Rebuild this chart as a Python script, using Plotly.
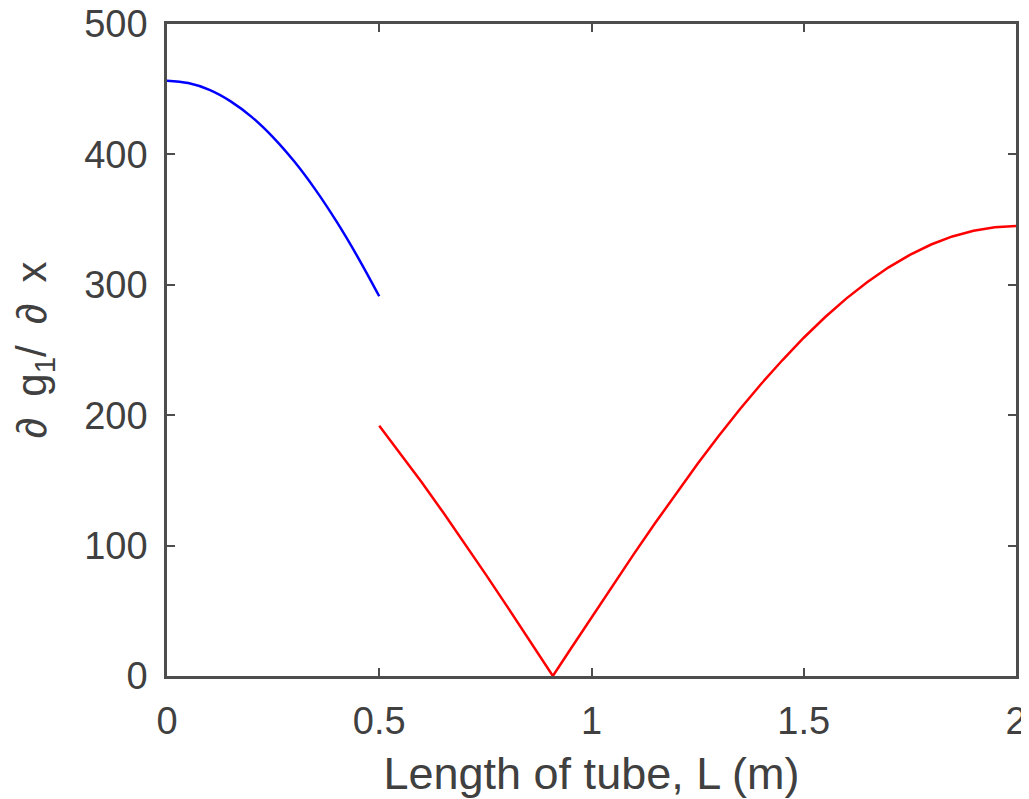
import plotly.graph_objects as go

# Blue segment (0 <= L <= 0.5)
L_blue = [0.0, 0.05, 0.1, 0.15, 0.2, 0.25, 0.3, 0.35, 0.4, 0.45, 0.5]
g_blue = [456.5, 454.7, 449.5, 440.7, 428.6, 413.1, 394.5, 372.8, 348.2, 320.9, 291.2]

# Red segment (0.5 <= L <= 2)
L_red = [0.5, 0.55, 0.6, 0.65, 0.7, 0.75, 0.8, 0.85, 0.9, 0.909, 0.95, 1.0, 1.05,
         1.1, 1.15, 1.2, 1.25, 1.3, 1.35, 1.4, 1.45, 1.5, 1.55, 1.6, 1.65, 1.7,
         1.75, 1.8, 1.85, 1.9, 1.95, 2.0]
g_red = [192.0, 170.5, 148.5, 125.7, 102.3, 78.3, 54.0, 29.3, 4.5, 0.0, 20.3, 45.1, 69.6,
         93.7, 117.3, 140.4, 162.7, 184.2, 204.7, 224.1, 242.3, 259.4, 275.1, 289.4, 302.1, 313.4,
         323.0, 330.9, 337.1, 341.5, 344.1, 345.0]

x_ticks = [0, 0.5, 1, 1.5, 2]
x_ticklabels = ["0", "0.5", "1", "1.5", "2"]
y_ticks = [0, 100, 200, 300, 400, 500]

FONT = "Liberation Sans, Arial"

fig = go.Figure()
fig.add_trace(go.Scatter(x=L_blue, y=g_blue, mode="lines", line_shape="spline",
                         line=dict(color="#0000ff", width=2.5), showlegend=False))
fig.add_trace(go.Scatter(x=L_red, y=g_red, mode="lines", line_shape="linear",
                         line=dict(color="#ff0000", width=2.5), showlegend=False))

axis_common = dict(showline=True, linecolor="#4d4d4d", linewidth=2.5, mirror="ticks",
                   ticks="inside", ticklen=8, tickwidth=2, tickcolor="#4d4d4d",
                   showgrid=False, zeroline=False, ticklabeloverflow="allow",
                   automargin=False,
                   tickfont=dict(family=FONT, size=38, color="#404040"))

fig.update_xaxes(range=[0, 2], tickvals=x_ticks, ticktext=x_ticklabels,
                 ticklabelstandoff=10,
                 title=dict(text="Length of tube, L (m)",
                            font=dict(family=FONT, size=45, color="#404040"),
                            standoff=19),
                 **axis_common)
fig.update_yaxes(range=[0, 500], tickvals=y_ticks,
                 ticklabelstandoff=9,
                 title=dict(text="\u2202\u2002g<sub>1</sub>/\u2002\u2202\u2002x",
                            font=dict(family=FONT, size=42, color="#404040"),
                            standoff=30),
                 **axis_common)

fig.update_layout(width=1021, height=791,
                  margin=dict(l=159, r=13, t=16, b=123),
                  plot_bgcolor="white", paper_bgcolor="white")

fig.write_html("out.html")
